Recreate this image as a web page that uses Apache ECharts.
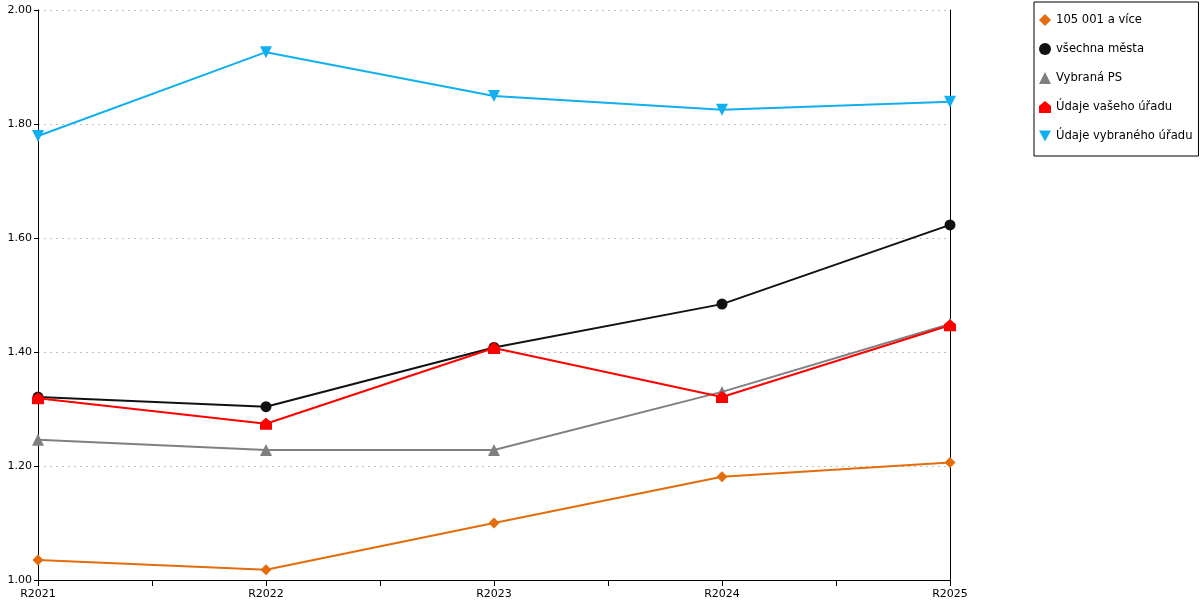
<!DOCTYPE html>
<html>
<head>
<meta charset="utf-8">
<script src="https://cdn.jsdelivr.net/npm/echarts@6/dist/echarts.min.js"></script>
<style>html,body{margin:0;padding:0;background:#fff}#c{width:1200px;height:600px}</style>
</head>
<body>
<div id="c"></div>
<script>
var categories = ['R2021', 'R2022', 'R2023', 'R2024', 'R2025'];
var yTicks = [1.0, 1.2, 1.4, 1.6, 1.8, 2.0];
var names = ['105 001 a více', 'všechna města', 'Vybraná PS', 'Údaje vašeho úřadu', 'Údaje vybraného úřadu'];
var s105 = [1.035, 1.018, 1.100, 1.181, 1.206];
var sMesta = [1.321, 1.304, 1.408, 1.484, 1.623];
var sPS = [1.246, 1.228, 1.228, 1.330, 1.449];
var sVas = [1.319, 1.274, 1.407, 1.321, 1.447];
var sVybr = [1.779, 1.926, 1.849, 1.825, 1.839];

var colors = ['#e46c0a', '#111111', '#808080', '#ff0000', '#10b0f0'];
var house = 'path://M0,5 L6,0 L12,5 L12,12 L0,12 Z';
var downTri = 'path://M0,0 L12,0 L6,11 Z';
var diamond = 'path://M6,0 L12,6 L6,12 L0,6 Z';
var symbols = [diamond, 'circle', 'triangle', house, downTri];
var sizes = [[11, 11], 11, 12, 12, 12];
var allData = [s105, sMesta, sPS, sVas, sVybr];

function pts(arr) { return arr.map(function (v, i) { return [i, v]; }); }

var series = allData.map(function (d, k) {
  return {
    name: names[k], type: 'line', data: pts(d),
    symbol: symbols[k], symbolSize: sizes[k],
    showAllSymbol: true,
    lineStyle: { color: colors[k], width: 2 },
    itemStyle: { color: colors[k] },
    emphasis: { disabled: true },
    animation: false
  };
});

var chart = echarts.init(document.getElementById('c'));
chart.setOption({
  animation: false,
  grid: { left: 38, right: 250, top: 10, bottom: 20, containLabel: false },
  legend: {
    orient: 'vertical', left: 1034, top: 2,
    padding: [12, 6, 14, 5],
    itemWidth: 12, itemHeight: 12, itemGap: 17,
    borderColor: '#000', borderWidth: 1,
    textStyle: { fontFamily: 'DejaVu Sans', fontSize: 11.6, color: '#000' },
    data: names.map(function (n, k) {
      return { name: n, icon: symbols[k], itemStyle: { color: colors[k] } };
    }),
    selectedMode: false
  },
  xAxis: {
    type: 'value', min: 0, max: categories.length - 1, interval: 0.5,
    axisLine: { show: true, lineStyle: { color: '#000', width: 1 } },
    axisTick: { show: true, length: 6, lineStyle: { color: '#000' } },
    splitLine: { show: false },
    axisLabel: {
      fontFamily: 'DejaVu Sans', fontSize: 11, color: '#000', margin: 9,
      showMinLabel: true, showMaxLabel: true,
      formatter: function (v) { return Number.isInteger(v) ? categories[v] : ''; }
    }
  },
  yAxis: [{
    type: 'value', min: yTicks[0], max: yTicks[yTicks.length - 1], interval: 0.2,
    axisLine: { show: true, lineStyle: { color: '#000', width: 1 } },
    axisTick: { show: true, length: 4, lineStyle: { color: '#000' } },
    splitLine: { show: true, lineStyle: { color: '#c0c0c0', type: [2, 4], width: 1 } },
    axisLabel: {
      fontFamily: 'DejaVu Sans', fontSize: 11, color: '#000', margin: 6,
      formatter: function (v) { return v.toFixed(2); }
    }
  }, {
    type: 'value', min: yTicks[0], max: yTicks[yTicks.length - 1], interval: 0.2, position: 'right',
    axisLine: { show: true, lineStyle: { color: '#000', width: 1 } },
    axisTick: { show: false }, axisLabel: { show: false }, splitLine: { show: false }
  }],
  series: series
});
</script>
</body>
</html>
